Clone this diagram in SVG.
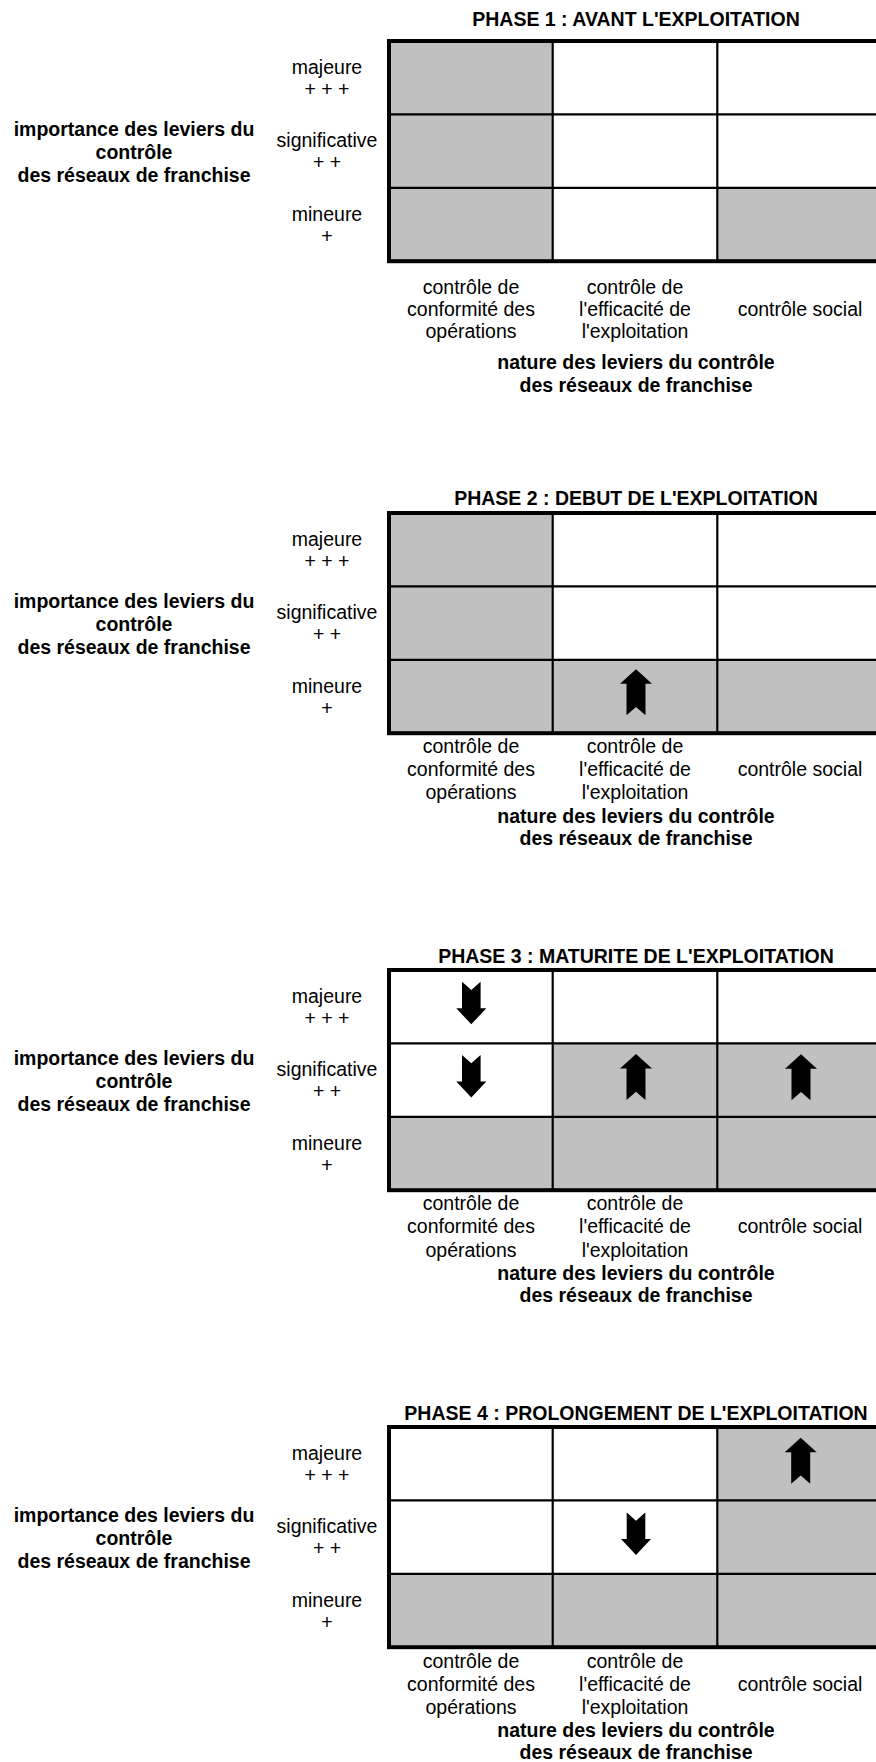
<svg xmlns="http://www.w3.org/2000/svg" xmlns:xlink="http://www.w3.org/1999/xlink" width="876" height="1762" viewBox="0 0 876 1762">
<style>
text{font-family:"Liberation Sans",Arial,Helvetica,sans-serif;font-size:19.5px;fill:#000;text-anchor:middle}
.b{font-weight:bold}
.g{fill:#C0C0C0}
.w{fill:#FFFFFF}
.in{stroke:#000;stroke-width:2.2;fill:none}
.out{stroke:#000;stroke-width:4;fill:none}
.arr{fill:#000}
</style>
<defs>
<path id="up" d="M0,0 L16,14.5 L9.5,14.5 L9.5,46 L0,37.7 L-9.5,46 L-9.5,14.5 L-16,14.5 Z"/>
<path id="down" d="M-9.3,0 L0,8.3 L9.3,0 L9.3,26.6 L15,26.6 L0,42.6 L-15,26.6 L-9.3,26.6 Z"/>
<g id="rowlabels">
<text x="327" y="33">majeure</text><text x="327" y="55">+ + +</text>
<text x="327" y="106.4">significative</text><text x="327" y="128.4">+ +</text>
<text x="327" y="179.8">mineure</text><text x="327" y="201.8">+</text>
<text class="b" x="134" y="95">importance des leviers du</text>
<text class="b" x="134" y="117.5">contrôle</text>
<text class="b" x="134" y="141">des réseaux de franchise</text>
</g>
<g id="lines">
<line class="in" x1="552.7" y1="0" x2="552.7" y2="220.2"/>
<line class="in" x1="717.3" y1="0" x2="717.3" y2="220.2"/>
<line class="in" x1="389" y1="73.4" x2="884" y2="73.4"/>
<line class="in" x1="389" y1="146.8" x2="884" y2="146.8"/>
<rect class="out" x="389" y="0" width="495" height="220.2"/>
</g>
</defs>

<g id="phase1">
<text class="b" x="636" y="26">PHASE 1 : AVANT L'EXPLOITATION</text>
<g transform="translate(0,41)">
<rect class="g" x="389" y="0" width="163.7" height="73.4"/>
<rect class="w" x="552.7" y="0" width="164.6" height="73.4"/>
<rect class="w" x="717.3" y="0" width="166.7" height="73.4"/>
<rect class="g" x="389" y="73.4" width="163.7" height="73.4"/>
<rect class="w" x="552.7" y="73.4" width="164.6" height="73.4"/>
<rect class="w" x="717.3" y="73.4" width="166.7" height="73.4"/>
<rect class="g" x="389" y="146.8" width="163.7" height="73.4"/>
<rect class="w" x="552.7" y="146.8" width="164.6" height="73.4"/>
<rect class="g" x="717.3" y="146.8" width="166.7" height="73.4"/>
<use xlink:href="#lines"/>
<use xlink:href="#rowlabels"/>
</g>
<text x="471" y="294.3">contrôle de</text>
<text x="471" y="316">conformité des</text>
<text x="471" y="337.5">opérations</text>
<text x="635" y="294.3">contrôle de</text>
<text x="635" y="316">l'efficacité de</text>
<text x="635" y="337.5">l'exploitation</text>
<text x="800" y="316">contrôle social</text>
<text class="b" x="636" y="369">nature des leviers du contrôle</text>
<text class="b" x="636" y="392">des réseaux de franchise</text>
</g>

<g id="phase2">
<text class="b" x="636" y="505">PHASE 2 : DEBUT DE L'EXPLOITATION</text>
<g transform="translate(0,513)">
<rect class="g" x="389" y="0" width="163.7" height="73.4"/>
<rect class="w" x="552.7" y="0" width="164.6" height="73.4"/>
<rect class="w" x="717.3" y="0" width="166.7" height="73.4"/>
<rect class="g" x="389" y="73.4" width="163.7" height="73.4"/>
<rect class="w" x="552.7" y="73.4" width="164.6" height="73.4"/>
<rect class="w" x="717.3" y="73.4" width="166.7" height="73.4"/>
<rect class="g" x="389" y="146.8" width="163.7" height="73.4"/>
<rect class="g" x="552.7" y="146.8" width="164.6" height="73.4"/>
<rect class="g" x="717.3" y="146.8" width="166.7" height="73.4"/>
<use xlink:href="#lines"/>
<use xlink:href="#rowlabels"/>
</g>
<text x="471" y="753.3">contrôle de</text>
<text x="471" y="776">conformité des</text>
<text x="471" y="798.5">opérations</text>
<text x="635" y="753.3">contrôle de</text>
<text x="635" y="776">l'efficacité de</text>
<text x="635" y="798.5">l'exploitation</text>
<text x="800" y="776">contrôle social</text>
<text class="b" x="636" y="822.5">nature des leviers du contrôle</text>
<text class="b" x="636" y="845">des réseaux de franchise</text>
</g>

<g id="phase3">
<text class="b" x="636" y="963">PHASE 3 : MATURITE DE L'EXPLOITATION</text>
<g transform="translate(0,970)">
<rect class="w" x="389" y="0" width="163.7" height="73.4"/>
<rect class="w" x="552.7" y="0" width="164.6" height="73.4"/>
<rect class="w" x="717.3" y="0" width="166.7" height="73.4"/>
<rect class="w" x="389" y="73.4" width="163.7" height="73.4"/>
<rect class="g" x="552.7" y="73.4" width="164.6" height="73.4"/>
<rect class="g" x="717.3" y="73.4" width="166.7" height="73.4"/>
<rect class="g" x="389" y="146.8" width="163.7" height="73.4"/>
<rect class="g" x="552.7" y="146.8" width="164.6" height="73.4"/>
<rect class="g" x="717.3" y="146.8" width="166.7" height="73.4"/>
<use xlink:href="#lines"/>
<use xlink:href="#rowlabels"/>
</g>
<text x="471" y="1210">contrôle de</text>
<text x="471" y="1233">conformité des</text>
<text x="471" y="1256.5">opérations</text>
<text x="635" y="1210">contrôle de</text>
<text x="635" y="1233">l'efficacité de</text>
<text x="635" y="1256.5">l'exploitation</text>
<text x="800" y="1233">contrôle social</text>
<text class="b" x="636" y="1279.5">nature des leviers du contrôle</text>
<text class="b" x="636" y="1302">des réseaux de franchise</text>
</g>

<g id="phase4">
<text class="b" x="636" y="1420">PHASE 4 : PROLONGEMENT DE L'EXPLOITATION</text>
<g transform="translate(0,1427)">
<rect class="w" x="389" y="0" width="163.7" height="73.4"/>
<rect class="w" x="552.7" y="0" width="164.6" height="73.4"/>
<rect class="g" x="717.3" y="0" width="166.7" height="73.4"/>
<rect class="w" x="389" y="73.4" width="163.7" height="73.4"/>
<rect class="w" x="552.7" y="73.4" width="164.6" height="73.4"/>
<rect class="g" x="717.3" y="73.4" width="166.7" height="73.4"/>
<rect class="g" x="389" y="146.8" width="163.7" height="73.4"/>
<rect class="g" x="552.7" y="146.8" width="164.6" height="73.4"/>
<rect class="g" x="717.3" y="146.8" width="166.7" height="73.4"/>
<use xlink:href="#lines"/>
<use xlink:href="#rowlabels"/>
</g>
<text x="471" y="1667.5">contrôle de</text>
<text x="471" y="1691">conformité des</text>
<text x="471" y="1714">opérations</text>
<text x="635" y="1667.5">contrôle de</text>
<text x="635" y="1691">l'efficacité de</text>
<text x="635" y="1714">l'exploitation</text>
<text x="800" y="1691">contrôle social</text>
<text class="b" x="636" y="1736.5">nature des leviers du contrôle</text>
<text class="b" x="636" y="1759">des réseaux de franchise</text>
</g>

<g id="arrows" class="arr">
<use xlink:href="#up" transform="translate(636,669.3)"/>
<use xlink:href="#down" transform="translate(471.3,981.7)"/>
<use xlink:href="#down" transform="translate(471.3,1055)"/>
<use xlink:href="#up" transform="translate(636,1054)"/>
<use xlink:href="#up" transform="translate(801,1054.3)"/>
<use xlink:href="#up" transform="translate(800.7,1437.7)"/>
<use xlink:href="#down" transform="translate(636,1512.5)"/>
</g>
</svg>
